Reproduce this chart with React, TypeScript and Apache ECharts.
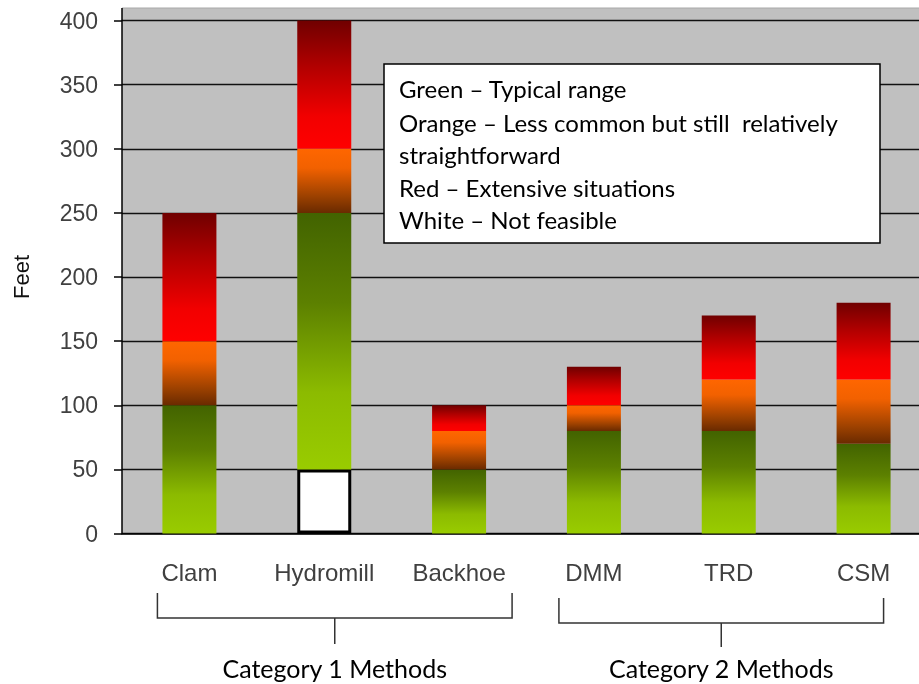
import React, { useEffect, useRef } from "react";
import * as echarts from "echarts";

const categories = ["Clam", "Hydromill", "Backhoe", "DMM", "TRD", "CSM"];
// stacked segments (feet)
const whiteSeg = [null, 50, null, null, null, null];
const greenSeg = [100, 200, 50, 80, 80, 70];
const orangeSeg = [50, 50, 30, 20, 40, 50];
const redSeg = [100, 100, 20, 30, 50, 60];
const yTicks = { min: 0, max: 400, interval: 50 };

const legendLines = [
  "Green \u2013 Typical range",
  "Orange \u2013 Less common but still  relatively",
  "straightforward",
  "Red \u2013 Extensive situations",
  "White \u2013 Not feasible",
];

const groups = [
  { name: "Category 1 Methods", from: "Clam", to: "Backhoe", padL: 32, padR: 53, top: 593, bottom: 618, tick: 644 },
  { name: "Category 2 Methods", from: "DMM", to: "CSM", padL: 35, padR: 20, top: 598, bottom: 623, tick: 647 },
];

const vgrad = (stops: [number, string][]) =>
  new echarts.graphic.LinearGradient(0, 0, 0, 1, stops.map(([offset, color]) => ({ offset, color })));

export default function App() {
  const ref = useRef<HTMLDivElement>(null);
  useEffect(() => {
    if (!ref.current) return;
    const chart = echarts.init(ref.current, null, { renderer: "svg" });
    const GL = 122, GT = 20.5, GW = 809, GH = 513;
    const greenGrad = vgrad([[0, "#426300"], [0.35, "#5c8000"], [0.7, "#8cbb00"], [1, "#99cc00"]]);
    const orangeGrad = vgrad([[0, "#ff6600"], [0.3, "#f26100"], [0.75, "#9a4000"], [1, "#6a2a00"]]);
    const redGrad = vgrad([[0, "#700000"], [0.35, "#b00000"], [0.75, "#f20000"], [1, "#ff0000"]]);
    const common = { type: "bar", stack: "s", barWidth: 54 };
    chart.setOption({
      animation: false,
      grid: { left: GL, top: GT, width: GW, height: GH, outerBoundsMode: "none", containLabel: false },
      xAxis: {
        type: "category",
        data: categories,
        axisLine: { lineStyle: { color: "#000", width: 1.5 } },
        axisTick: { show: false },
        axisLabel: { interval: 0, hideOverlap: false, color: "#404040", fontSize: 24, fontFamily: "Liberation Sans, Arial", margin: 27 },
      },
      yAxis: {
        type: "value",
        min: yTicks.min,
        max: yTicks.max,
        interval: yTicks.interval,
        name: "Feet",
        nameLocation: "middle",
        nameGap: 90,
        nameTextStyle: { color: "#111", fontSize: 22, fontFamily: "Liberation Sans, Arial" },
        axisLine: { show: true, lineStyle: { color: "#000", width: 1.5 } },
        axisTick: { show: true, length: 8, lineStyle: { color: "#000", width: 1.5 } },
        axisLabel: { color: "#404040", fontSize: 23, fontFamily: "Liberation Sans, Arial", margin: 24 },
        splitLine: { lineStyle: { color: "#111", width: 1.3 } },
      },
      series: [
        { ...common, name: "White", data: whiteSeg, itemStyle: { color: "#fff", borderColor: "#000", borderWidth: 3 } },
        { ...common, name: "Green", data: greenSeg, itemStyle: { color: greenGrad } },
        { ...common, name: "Orange", data: orangeSeg, itemStyle: { color: orangeGrad } },
        { ...common, name: "Red", data: redSeg, itemStyle: { color: redGrad } },
      ],
    });
    const cx = (c: string) => chart.convertToPixel({ xAxisIndex: 0 }, c) as number;
    const gfx: any[] = [
      { type: "rect", z: -10, shape: { x: GL, y: 8, width: 919 - GL, height: GT + GH - 8 }, style: { fill: "#c0c0c0" } },
      { type: "line", z: -5, shape: { x1: GL, y1: 8, x2: 919, y2: 8 }, style: { stroke: "#a8a8a8", lineWidth: 1 } },
      { type: "line", z: 5, shape: { x1: GL, y1: 8, x2: GL, y2: GT }, style: { stroke: "#000", lineWidth: 1.5 } },
      { type: "rect", z: 10, shape: { x: 384, y: 64, width: 496, height: 179 }, style: { fill: "#fff", stroke: "#000", lineWidth: 1.5 } },
    ];
    const lineYs = [88, 122, 154, 187, 219];
    legendLines.forEach((t, i) => {
      gfx.push({ type: "text", z: 11, x: 399, y: lineYs[i], style: { text: t, fill: "#000", font: "24px Lato, 'Noto Sans', sans-serif", textVerticalAlign: "middle" } });
    });
    groups.forEach((g) => {
      const l = cx(g.from) - g.padL;
      const r = cx(g.to) + g.padR;
      const m = (l + r) / 2;
      gfx.push({ type: "polyline", shape: { points: [[l, g.top], [l, g.bottom], [r, g.bottom], [r, g.top]] }, style: { stroke: "#333", lineWidth: 1.5, fill: null } });
      gfx.push({ type: "line", shape: { x1: m, y1: g.bottom, x2: m, y2: g.tick }, style: { stroke: "#333", lineWidth: 1.5 } });
      gfx.push({ type: "text", x: m, y: 668, style: { text: g.name, fill: "#000", font: "25px Lato, 'Noto Sans', sans-serif", textAlign: "center", textVerticalAlign: "middle" } });
    });
    chart.setOption({ graphic: gfx });
    return () => chart.dispose();
  }, []);
  return <div ref={ref} style={{ position: "fixed", left: 0, top: 0, width: 919, height: 684 }} />;
}
